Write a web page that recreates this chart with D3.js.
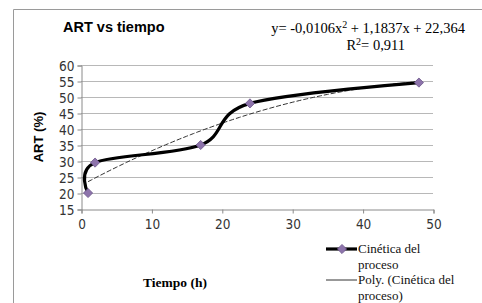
<!DOCTYPE html>
<html lang="es">
<head>
<meta charset="UTF-8">
<title>ART vs tiempo</title>
<script src="https://cdnjs.cloudflare.com/ajax/libs/d3/7.8.5/d3.min.js"></script>
<style>
  body { margin: 0; background: #fff; }
  svg { display: block; }
</style>
</head>
<body>
<div id="chart"></div>
<script>
  var width = 482, height = 303;

  // data
  var tiempo = [1, 2, 17, 24, 48];
  var art = [20, 29.5, 35, 48, 54.5];
  var xTicks = [0, 10, 20, 30, 40, 50];
  var yTicks = [15, 20, 25, 30, 35, 40, 45, 50, 55, 60];
  // polynomial trend y = a x^2 + b x + c
  var polyCoef = [-0.0106, 1.1837, 22.364];
  var legendLabels = [["Cinética del", "proceso"], ["Poly. (Cinética del", "proceso)"]];

  var svg = d3.select("#chart").append("svg")
    .attr("width", width).attr("height", height);

  // chart border (runs off the picture on the right and bottom)
  svg.append("path")
    .attr("d", "M13.5," + height + "V9.5H" + width)
    .attr("fill", "none").attr("stroke", "#9a9a9a");

  var x = d3.scaleLinear().domain([0, 50]).range([81, 433]);
  var y = d3.scaleLinear().domain([15, 60]).range([209, 65]);

  // gridlines
  svg.append("g").selectAll("line")
    .data(yTicks.slice(1))
    .enter().append("line")
    .attr("x1", x(0)).attr("x2", x(50))
    .attr("y1", function(d) { return Math.round(y(d)) + 0.5; })
    .attr("y2", function(d) { return Math.round(y(d)) + 0.5; })
    .attr("stroke", "#b8b8b8");

  // axes
  var yAxis = svg.append("g")
    .attr("transform", "translate(" + (x(0) + 0.5) + ",0.5)")
    .call(d3.axisLeft(y).tickValues(yTicks).tickSize(4).tickPadding(3));
  var xAxis = svg.append("g")
    .attr("transform", "translate(0.5," + (y(15) + 0.5) + ")")
    .call(d3.axisBottom(x).tickValues(xTicks).tickSize(4).tickPadding(6));
  [xAxis, yAxis].forEach(function(g) {
    g.select(".domain").attr("stroke", "#8a8a8a");
    g.selectAll(".tick line").attr("stroke", "#8a8a8a");
    g.selectAll("text")
      .attr("font-family", "'Liberation Sans Narrow', 'DejaVu Sans Condensed', sans-serif")
      .attr("font-size", 13.5).attr("fill", "#333");
  });
  yAxis.selectAll("text").attr("dy", "0.36em");

  // trend line
  var trendPts = d3.range(tiempo[0], tiempo[tiempo.length - 1] + 0.01, 0.5).map(function(t) {
    return [t, polyCoef[0] * t * t + polyCoef[1] * t + polyCoef[2]];
  });
  svg.append("path")
    .datum(trendPts)
    .attr("fill", "none").attr("stroke", "#333").attr("stroke-width", 1)
    .attr("stroke-dasharray", "5,2")
    .attr("d", d3.line().x(function(d) { return x(d[0]); }).y(function(d) { return y(d[1]); }));

  // smoothed series
  var pts = tiempo.map(function(t, i) { return [t, art[i]]; });
  svg.append("path")
    .datum(pts)
    .attr("fill", "none").attr("stroke", "#000").attr("stroke-width", 3.2)
    .attr("d", d3.line().curve(d3.curveCardinal.tension(0))
      .x(function(d) { return x(d[0]); }).y(function(d) { return y(d[1]); }));

  // diamond marker: rotated square
  var diamond = d3.symbol().type(d3.symbolSquare).size(42);
  svg.append("g").selectAll("path")
    .data(pts)
    .enter().append("path")
    .attr("d", diamond)
    .attr("transform", function(d) { return "translate(" + x(d[0]) + "," + y(d[1]) + ") rotate(45)"; })
    .attr("fill", "#8d73ab").attr("stroke", "#6f5a8c").attr("stroke-width", 0.8);

  // title and equation
  svg.append("text").attr("x", 63).attr("y", 32)
    .attr("font-family", "'Liberation Sans', Arial, sans-serif")
    .attr("font-weight", "bold").attr("font-size", 14.5)
    .text("ART vs tiempo");
  var serif = "'Liberation Serif', 'Times New Roman', serif";
  var eq = svg.append("text").attr("x", 465).attr("y", 33).attr("text-anchor", "end")
    .attr("font-family", serif).attr("font-size", 14.5);
  eq.append("tspan").text("y= -0,0106x");
  eq.append("tspan").attr("font-size", 10).attr("dy", -5).text("2");
  eq.append("tspan").attr("dy", 5).text(" + 1,1837x + 22,364");
  var r2 = svg.append("text").attr("x", 405).attr("y", 50).attr("text-anchor", "end")
    .attr("font-family", serif).attr("font-size", 14.5);
  r2.append("tspan").text("R");
  r2.append("tspan").attr("font-size", 10).attr("dy", -5).text("2");
  r2.append("tspan").attr("dy", 5).text("= 0,911");

  // axis titles
  svg.append("text")
    .attr("transform", "translate(43,137) rotate(-90)")
    .attr("text-anchor", "middle")
    .attr("font-family", "'Liberation Sans', Arial, sans-serif")
    .attr("font-weight", "bold").attr("font-size", 13)
    .text("ART (%)");
  svg.append("text").attr("x", 175).attr("y", 287).attr("text-anchor", "middle")
    .attr("font-family", serif).attr("font-weight", "bold").attr("font-size", 13.5)
    .text("Tiempo (h)");

  // legend
  var legendY = [249, 280];
  svg.append("line").attr("x1", 326).attr("x2", 357).attr("y1", legendY[0]).attr("y2", legendY[0])
    .attr("stroke", "#000").attr("stroke-width", 3.2);
  svg.append("path").attr("d", diamond)
    .attr("transform", "translate(342," + legendY[0] + ") rotate(45)")
    .attr("fill", "#8d73ab").attr("stroke", "#6f5a8c").attr("stroke-width", 0.8);
  svg.append("line").attr("x1", 326).attr("x2", 357).attr("y1", legendY[1]).attr("y2", legendY[1])
    .attr("stroke", "#333").attr("stroke-width", 1);
  legendLabels.forEach(function(lines, i) {
    var t = svg.append("text").attr("x", 358).attr("y", legendY[i] + 4)
      .attr("font-family", serif).attr("font-size", 13).attr("fill", "#111");
    lines.forEach(function(s, j) {
      t.append("tspan").attr("x", 358).attr("dy", j ? 16 : 0).text(s);
    });
  });
</script>
</body>
</html>
